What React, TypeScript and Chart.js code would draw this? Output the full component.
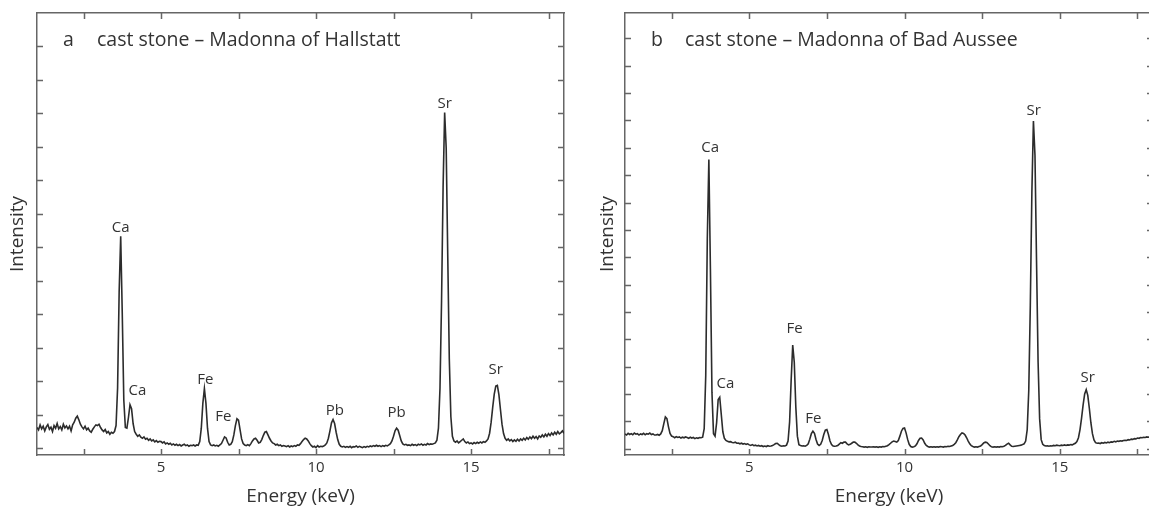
import React, { useEffect, useRef } from "react";
import { Chart, registerables } from "chart.js";

Chart.register(...registerables);

// ---- data (energy grid: spectrometer channels from 1.00 keV in 0.05 keV steps) ----
const ENERGY_START = 1.0;
const ENERGY_STEP = 0.05;

// Panel a – cast stone, Madonna of Hallstatt (relative intensity)
const intensityHallstatt = [
  0.62, 0.55, 0.70, 0.58, 0.66, 0.52, 0.64, 0.71, 0.57, 0.63, 0.50, 0.68, 0.60, 0.74, 0.58, 0.65, 0.55, 0.72, 0.61, 0.67,
  0.58, 0.66, 0.52, 0.70, 0.78, 0.90, 0.96, 0.85, 0.72, 0.64, 0.58, 0.66, 0.55, 0.60, 0.52, 0.48, 0.57, 0.64, 0.70, 0.68,
  0.72, 0.62, 0.55, 0.50, 0.56, 0.46, 0.50, 0.42, 0.48, 0.45, 0.50, 0.68, 1.81, 4.67, 6.33, 4.04, 1.44, 0.62, 0.60, 0.92,
  1.30, 1.18, 0.74, 0.50, 0.42, 0.36, 0.40, 0.33, 0.30, 0.34, 0.27, 0.30, 0.24, 0.28, 0.22, 0.25, 0.19, 0.23, 0.18, 0.21,
  0.20, 0.16, 0.19, 0.13, 0.16, 0.12, 0.15, 0.10, 0.13, 0.09, 0.12, 0.08, 0.11, 0.07, 0.10, 0.12, 0.08, 0.10, 0.06, 0.09,
  0.08, 0.10, 0.07, 0.10, 0.09, 0.20, 0.60, 1.34, 1.78, 1.34, 0.60, 0.20, 0.10, 0.08, 0.10, 0.07, 0.09, 0.06, 0.10, 0.14,
  0.24, 0.34, 0.31, 0.18, 0.10, 0.12, 0.20, 0.40, 0.68, 0.88, 0.84, 0.56, 0.28, 0.14, 0.10, 0.08, 0.11, 0.08, 0.14, 0.22,
  0.28, 0.30, 0.24, 0.16, 0.18, 0.26, 0.38, 0.48, 0.50, 0.40, 0.30, 0.22, 0.16, 0.14, 0.10, 0.12, 0.08, 0.10, 0.06, 0.08,
  0.07, 0.05, 0.08, 0.04, 0.07, 0.05, 0.08, 0.06, 0.10, 0.09, 0.14, 0.20, 0.26, 0.30, 0.28, 0.22, 0.14, 0.08, 0.04, 0.06,
  0.02, 0.08, 0.04, 0.06, 0.05, 0.07, 0.10, 0.16, 0.30, 0.52, 0.76, 0.86, 0.74, 0.48, 0.26, 0.12, 0.06, 0.04, 0.06, 0.03,
  0.05, 0.03, 0.06, 0.02, 0.05, 0.04, 0.07, 0.03, 0.06, 0.04, 0.02, 0.05, 0.03, 0.06, 0.04, 0.07, 0.05, 0.08, 0.06, 0.09,
  0.06, 0.08, 0.05, 0.08, 0.06, 0.09, 0.07, 0.10, 0.14, 0.22, 0.36, 0.52, 0.60, 0.54, 0.38, 0.22, 0.13, 0.10, 0.12, 0.09,
  0.10, 0.08, 0.12, 0.09, 0.11, 0.08, 0.12, 0.10, 0.13, 0.09, 0.12, 0.10, 0.14, 0.11, 0.13, 0.12, 0.14, 0.16, 0.24, 0.60,
  1.80, 4.40, 7.80, 10.03, 8.96, 5.75, 2.67, 0.95, 0.36, 0.22, 0.18, 0.22, 0.16, 0.20, 0.24, 0.28, 0.20, 0.16, 0.19, 0.14,
  0.16, 0.13, 0.17, 0.14, 0.18, 0.15, 0.19, 0.16, 0.20, 0.18, 0.22, 0.28, 0.45, 0.78, 1.22, 1.62, 1.86, 1.88, 1.60, 1.16,
  0.72, 0.44, 0.30, 0.24, 0.28, 0.22, 0.26, 0.20, 0.25, 0.21, 0.27, 0.22, 0.28, 0.24, 0.30, 0.25, 0.32, 0.27, 0.34, 0.29,
  0.36, 0.30, 0.35, 0.28, 0.37, 0.33, 0.40, 0.34, 0.42, 0.36, 0.44, 0.38, 0.46, 0.40, 0.48, 0.42, 0.50, 0.43, 0.47, 0.52,
  0.45,
];

// Panel b – cast stone, Madonna of Bad Aussee (relative intensity)
const intensityBadAussee = [
  0.54, 0.50, 0.56, 0.52, 0.55, 0.51, 0.57, 0.53, 0.55, 0.50, 0.54, 0.52, 0.56, 0.51, 0.55, 0.53, 0.57, 0.52, 0.54, 0.50,
  0.50, 0.52, 0.49, 0.54, 0.66, 0.92, 1.16, 1.10, 0.80, 0.56, 0.46, 0.44, 0.40, 0.44, 0.41, 0.43, 0.39, 0.42, 0.40, 0.43,
  0.41, 0.38, 0.42, 0.39, 0.41, 0.37, 0.40, 0.38, 0.41, 0.40, 0.42, 0.73, 2.69, 7.68, 10.57, 6.57, 2.05, 0.55, 0.46, 0.95,
  1.80, 1.88, 1.25, 0.62, 0.38, 0.30, 0.27, 0.25, 0.26, 0.23, 0.22, 0.24, 0.20, 0.21, 0.18, 0.20, 0.17, 0.19, 0.16, 0.18,
  0.14, 0.12, 0.15, 0.11, 0.13, 0.10, 0.12, 0.09, 0.11, 0.08, 0.10, 0.08, 0.11, 0.09, 0.10, 0.12, 0.15, 0.19, 0.20, 0.15,
  0.11, 0.09, 0.11, 0.10, 0.13, 0.28, 0.98, 2.51, 3.79, 3.16, 1.52, 0.46, 0.15, 0.12, 0.10, 0.11, 0.09, 0.12, 0.18, 0.35,
  0.55, 0.64, 0.56, 0.34, 0.17, 0.12, 0.16, 0.30, 0.52, 0.68, 0.70, 0.52, 0.28, 0.15, 0.10, 0.09, 0.10, 0.12, 0.17, 0.22,
  0.20, 0.24, 0.24, 0.18, 0.14, 0.16, 0.20, 0.24, 0.24, 0.20, 0.14, 0.10, 0.08, 0.07, 0.06, 0.07, 0.05, 0.07, 0.06, 0.06,
  0.07, 0.06, 0.07, 0.05, 0.07, 0.06, 0.08, 0.07, 0.09, 0.11, 0.15, 0.20, 0.25, 0.28, 0.26, 0.24, 0.30, 0.46, 0.64, 0.74,
  0.76, 0.58, 0.34, 0.16, 0.08, 0.06, 0.07, 0.10, 0.18, 0.30, 0.38, 0.39, 0.32, 0.20, 0.12, 0.08, 0.06, 0.07, 0.06, 0.07,
  0.06, 0.07, 0.06, 0.08, 0.07, 0.06, 0.08, 0.07, 0.09, 0.08, 0.10, 0.12, 0.16, 0.22, 0.32, 0.44, 0.52, 0.58, 0.56, 0.50,
  0.40, 0.28, 0.18, 0.11, 0.08, 0.06, 0.07, 0.06, 0.08, 0.10, 0.15, 0.21, 0.24, 0.23, 0.17, 0.11, 0.07, 0.06, 0.07, 0.06,
  0.07, 0.06, 0.08, 0.07, 0.09, 0.12, 0.17, 0.20, 0.14, 0.09, 0.08, 0.09, 0.10, 0.11, 0.12, 0.13, 0.15, 0.18, 0.28, 0.70,
  2.13, 5.25, 9.36, 11.98, 10.73, 6.87, 3.18, 1.09, 0.33, 0.16, 0.12, 0.10, 0.11, 0.09, 0.11, 0.10, 0.12, 0.11, 0.13, 0.12,
  0.11, 0.13, 0.12, 0.14, 0.12, 0.14, 0.13, 0.15, 0.14, 0.17, 0.20, 0.26, 0.40, 0.70, 1.12, 1.60, 2.00, 2.16, 1.95, 1.48,
  0.95, 0.55, 0.32, 0.22, 0.20, 0.21, 0.19, 0.22, 0.20, 0.23, 0.21, 0.24, 0.22, 0.25, 0.24, 0.27, 0.25, 0.28, 0.27, 0.29,
  0.28, 0.30, 0.31, 0.30, 0.33, 0.32, 0.35, 0.34, 0.37, 0.36, 0.39, 0.38, 0.41, 0.40, 0.42, 0.41, 0.43, 0.42, 0.44, 0.43,
  0.44,
];

// axis ticks
const xTickValues = [2.5, 5, 7.5, 10, 12.5, 15, 17.5];
const xTickLabels = ["", "5", "", "10", "", "15", ""];
const yTicksHallstatt = [0, 1, 2, 3, 4, 5, 6, 7, 8, 9, 10, 11, 12];
const yTicksBadAussee = [0, 1, 2, 3, 4, 5, 6, 7, 8, 9, 10, 11, 12, 13, 14, 15];

// peak annotations (element, energy keV, intensity at label centre)
const peakNamesHallstatt = ["Ca", "Ca", "Fe", "Fe", "Pb", "Pb", "Sr", "Sr"];
const peakEnergyHallstatt = [3.7, 4.24, 6.43, 7.01, 10.61, 12.6, 14.15, 15.8];
const peakLabelHallstatt = [6.6, 1.72, 2.04, 0.95, 1.12, 1.07, 10.3, 2.34];

const peakNamesBadAussee = ["Ca", "Ca", "Fe", "Fe", "Sr", "Sr"];
const peakEnergyBadAussee = [3.74, 4.23, 6.46, 7.06, 14.16, 15.9];
const peakLabelBadAussee = [11.0, 2.38, 4.37, 1.11, 12.34, 2.6];

const FONT = "'Open Sans', 'Noto Sans', sans-serif";
const TEXT = "#333333";
const FRAME = "#666666";
const LINE = "#2c2c2c";
const TICK_LEN = 6;

const panelDecor = {
  id: "panelDecor",
  afterDraw(chart: any, _args: any, opts: any) {
    const { ctx, chartArea: a } = chart;
    const x = chart.scales.x;
    const y = chart.scales.y;
    ctx.save();
    ctx.strokeStyle = FRAME;
    ctx.lineWidth = 1.5;
    ctx.beginPath();
    for (const t of x.ticks) {
      const px = Math.round(x.getPixelForValue(t.value)) + 0.5;
      ctx.moveTo(px, a.bottom);
      ctx.lineTo(px, a.bottom - TICK_LEN);
      ctx.moveTo(px, a.top);
      ctx.lineTo(px, a.top + TICK_LEN);
    }
    for (const t of y.ticks) {
      const py = Math.round(y.getPixelForValue(t.value)) + 0.5;
      ctx.moveTo(a.left, py);
      ctx.lineTo(a.left + TICK_LEN, py);
      ctx.moveTo(a.right, py);
      ctx.lineTo(a.right - TICK_LEN, py);
    }
    ctx.stroke();

    ctx.fillStyle = TEXT;
    ctx.font = `15px ${FONT}`;
    ctx.textAlign = "center";
    ctx.textBaseline = "middle";
    opts.names.forEach((n: string, i: number) => {
      ctx.fillText(n, x.getPixelForValue(opts.energies[i]), y.getPixelForValue(opts.levels[i]));
    });

    ctx.font = `19.5px ${FONT}`;
    ctx.textAlign = "left";
    ctx.textBaseline = "alphabetic";
    ctx.fillText(opts.letter, a.left + 26, a.top + 33);
    ctx.fillText(opts.title, a.left + 60, a.top + 33);
    ctx.restore();
  },
};

type PanelProps = {
  letter: string;
  title: string;
  values: number[];
  yMin: number;
  yMax: number;
  yTicks: number[];
  names: string[];
  energies: number[];
  levels: number[];
  padLeft: number;
  padRight: number;
  yTitleBottom: number;
  left: number;
};

function SpectrumPanel(p: PanelProps) {
  const ref = useRef<HTMLCanvasElement | null>(null);
  useEffect(() => {
    if (!ref.current) return;
    const points = p.values.map((v, i) => ({ x: ENERGY_START + i * ENERGY_STEP, y: v }));
    const border = { display: true, color: FRAME, width: 1.5 };
    const chart = new Chart(ref.current, {
      type: "line",
      data: {
        datasets: [
          {
            data: points,
            borderColor: LINE,
            borderWidth: 1.6,
            pointRadius: 0,
            tension: 0,
            fill: false,
          },
        ],
      },
      options: {
        responsive: false,
        animation: false,
        devicePixelRatio: 1,
        parsing: true,
        layout: { padding: { left: p.padLeft, right: p.padRight, top: 13, bottom: 0 } },
        plugins: {
          legend: { display: false },
          tooltip: { enabled: false },
          panelDecor: {
            letter: p.letter,
            title: p.title,
            names: p.names,
            energies: p.energies,
            levels: p.levels,
          },
        } as any,
        scales: {
          x: {
            type: "linear",
            position: "bottom",
            min: 1,
            max: 18,
            afterBuildTicks: (s: any) => {
              s.ticks = xTickValues.map((v) => ({ value: v }));
            },
            ticks: {
              autoSkip: false,
              maxRotation: 0,
              padding: 4,
              color: TEXT,
              font: { family: FONT, size: 15 },
              callback: (v: any) => {
                const i = xTickValues.indexOf(Number(v));
                return i >= 0 ? xTickLabels[i] : "";
              },
            },
            grid: { drawOnChartArea: false, drawTicks: false },
            border,
            title: {
              display: true,
              text: "Energy (keV)",
              color: TEXT,
              font: { family: FONT, size: 19, lineHeight: 1 },
              padding: { top: 6.5, bottom: 0.5 },
            },
          },
          x2: {
            type: "linear",
            position: "top",
            min: 1,
            max: 18,
            ticks: { display: false },
            grid: { drawOnChartArea: false, drawTicks: false },
            border,
          },
          y: {
            type: "linear",
            position: "left",
            min: p.yMin,
            max: p.yMax,
            afterBuildTicks: (s: any) => {
              s.ticks = p.yTicks.map((v) => ({ value: v }));
            },
            ticks: { display: false },
            grid: { drawOnChartArea: false, drawTicks: false },
            border,
            title: {
              display: true,
              text: "Intensity",
              color: TEXT,
              font: { family: FONT, size: 19, lineHeight: 1 },
              padding: { top: 0, bottom: p.yTitleBottom },
            },
          },
          y2: {
            type: "linear",
            position: "right",
            min: p.yMin,
            max: p.yMax,
            ticks: { display: false },
            grid: { drawOnChartArea: false, drawTicks: false },
            border,
          },
        },
      } as any,
      plugins: [panelDecor as any],
    });
    return () => chart.destroy();
  }, []);
  return (
    <canvas
      ref={ref}
      width={580}
      height={507}
      style={{ position: "absolute", left: p.left, top: 0, width: 580, height: 507 }}
    />
  );
}

export default function App() {
  return (
    <div
      style={{
        position: "fixed",
        left: 0,
        top: 0,
        width: 1149,
        height: 507,
        overflow: "hidden",
        background: "#ffffff",
      }}
    >
      <SpectrumPanel
        letter="a"
        title="cast stone – Madonna of Hallstatt"
        values={intensityHallstatt}
        yMin={-0.2}
        yMax={13.0}
        yTicks={yTicksHallstatt}
        names={peakNamesHallstatt}
        energies={peakEnergyHallstatt}
        levels={peakLabelHallstatt}
        padLeft={8}
        padRight={16}
        yTitleBottom={10}
        left={0}
      />
      <SpectrumPanel
        letter="b"
        title="cast stone – Madonna of Bad Aussee"
        values={intensityBadAussee}
        yMin={-0.23}
        yMax={15.93}
        yTicks={yTicksBadAussee}
        names={peakNamesBadAussee}
        energies={peakEnergyBadAussee}
        levels={peakLabelBadAussee}
        padLeft={18}
        padRight={7}
        yTitleBottom={8}
        left={580}
      />
    </div>
  );
}
